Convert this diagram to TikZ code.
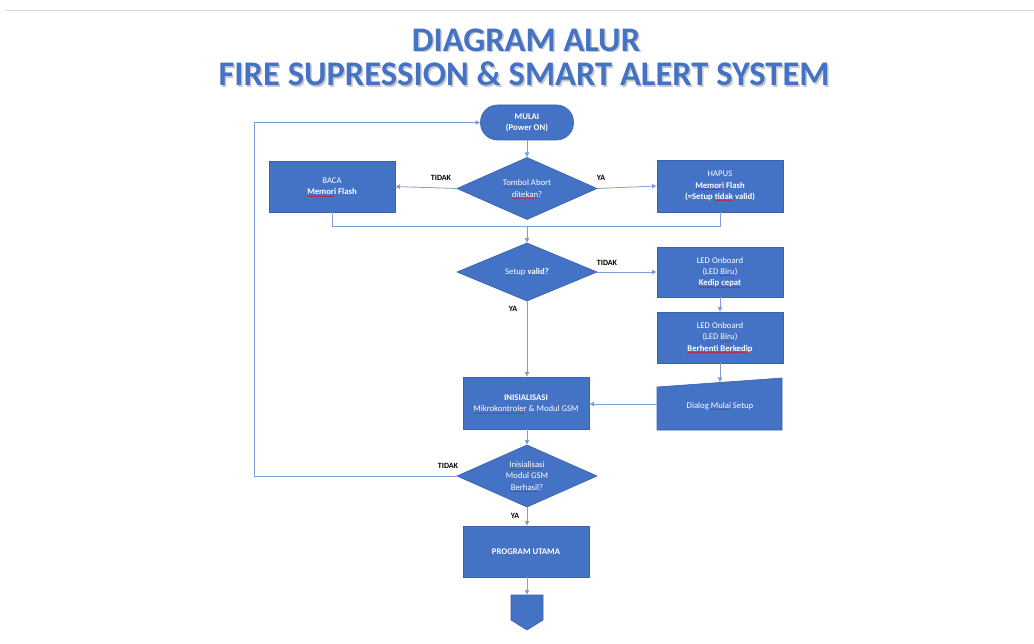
\documentclass[tikz,border=0pt]{standalone}
\usepackage{fontspec}
\setmainfont{Carlito}
\usetikzlibrary{shapes.geometric,arrows.meta}
\definecolor{obl}{HTML}{4472C4}
\definecolor{obd}{HTML}{3A62AD}
\definecolor{lnk}{HTML}{7F9ED6}
\newlength\sqlen
\newcommand\sqw[1]{\leavevmode\settowidth{\sqlen}{#1}\rlap{\color{red}\raisebox{-3.6pt}[0pt][0pt]{\hbox to\sqlen{\fontsize{6}{6}\selectfont\leaders\hbox{\char"7E}\hfil}}}#1}
\tikzset{
  txt/.style={font=\fontsize{8.7}{11.2}\selectfont},
  boxnode/.style={rectangle,fill=obl,draw=obd,line width=0.6pt,text=white,
    minimum width=126,minimum height=51,inner sep=0pt,outer sep=0pt,align=center,txt},
  decnode/.style={diamond,fill=obl,draw=obd,line width=0.6pt,text=white,
    minimum width=140,minimum height=62,shape aspect=2.2,inner sep=0pt,outer sep=0pt,align=center,txt},
  termnode/.style={rectangle,rounded corners=17pt,fill=obl,draw=obd,line width=0.6pt,text=white,
    minimum width=93,minimum height=35,inner sep=0pt,outer sep=0pt,align=center,txt},
  conn/.style={draw=lnk,line width=0.8pt},
  arr/.style={conn,-{Latex[length=5pt,width=5pt]}},
  lbl/.style={font=\fontsize{8}{9}\selectfont\bfseries,text=black,inner sep=0pt},
  ttl/.style={font=\fontsize{34.5}{36}\selectfont\bfseries,inner sep=0pt}
}
\begin{document}
\begin{tikzpicture}[x=1pt,y=-1pt]
\useasboundingbox (0,0) rectangle (1034,644);
\fill[white] (0,0) rectangle (1034,644);
% top rule
\draw[color=black!15,line width=1pt] (5,11) -- (1034,11);
% title
\node[ttl,text=black!35,opacity=0.6] at (527.5,41.5) {DIAGRAM ALUR};
\node[ttl,text=obl] (t1) at (526,40) {DIAGRAM ALUR};
\node[ttl,text=black!35,opacity=0.6] at (525.5,75.5) {FIRE SUPRESSION \& SMART ALERT SYSTEM};
\node[ttl,text=obl] (t2) at (524,74) {FIRE SUPRESSION \& SMART ALERT SYSTEM};

% nodes
\node[termnode] (mulai) at (527,122.5) {\textbf{MULAI}\\\textbf{(Power ON)}};
\node[decnode] (d1) at (527,188.5) {\sqw{Tombol} Abort\\\sqw{ditekan}?};
\node[boxnode] (baca) at (332,186.5) {BACA\\\textbf{\sqw{Memori} Flash}};
\node[boxnode,minimum height=52] (hapus) at (720,186) {HAPUS\\\textbf{\sqw{Memori} Flash}\\\textbf{(=Setup \sqw{tidak} valid)}};
\node[decnode,minimum height=58] (d2) at (527,272) {Setup \textbf{valid?}};
\node[boxnode,minimum height=50] (led1) at (720,272) {LED Onboard\\(LED \sqw{Biru})\\\textbf{\sqw{Kedip cepat\ }}};
\node[boxnode] (led2) at (720,337.5) {LED Onboard\\(LED \sqw{Biru})\\\textbf{\sqw{Berhenti Berkedip}}};
\node[boxnode,minimum height=52] (init) at (526,403) {\textbf{INISIALISASI}\\\sqw{Mikrokontroler} \& Modul GSM};
% manual input shape
\fill[obl,draw=obd,line width=0.6pt] (657,387) -- (782,378) -- (782,430) -- (657,430) -- cycle;
\node[txt,text=white,inner sep=0pt] (dlg) at (720,406) {Dialog \sqw{Mulai} Setup};
\coordinate (dlgtop) at (720,382.5);
\coordinate (dlgleft) at (657,404);
\node[decnode] (d3) at (527,476) {\sqw{Inisialisasi}\\Modul GSM\\\sqw{Berhasil}?};
\node[boxnode] (prog) at (526,551.5) {\textbf{PROGRAM UTAMA}};
% off-page connector
\fill[obl,draw=obd,line width=0.6pt] (511,595) -- (543,595) -- (543,620) -- (527,630) -- (511,620) -- cycle;
\coordinate (offtop) at (527,595);

% connectors
\draw[arr] (mulai.south) -- (d1.north);
\draw[arr] (d1.west) -- (baca.east);
\draw[arr] (d1.east) -- (hapus.west);
\coordinate (mL) at (332,226);
\coordinate (mR) at (720,226);
\coordinate (mC) at (527,226);
\draw[conn] (baca.south) -- (mL) -- (mR) -- (hapus.south);
\draw[arr] (mC) -- (d2.north);
\draw[arr] (d2.east) -- (led1.west);
\draw[arr] (led1.south) -- (led2.north);
\draw[arr] (led2.south) -- (dlgtop);
\draw[arr] (dlgleft) -- (init.east |- dlgleft);
\draw[arr] (d2.south) -- (init.north -| d2.south);
\draw[arr] (init.south -| d3.north) -- (d3.north);
\draw[arr] (d3.south) -- (prog.north -| d3.south);
\draw[arr] (prog.south -| offtop) -- (offtop);
\coordinate (lb) at (254,476);
\coordinate (lt) at (254,122.5);
\draw[arr] (d3.west) -- (lb) -- (lt) -- (mulai.west);

% labels
\node[lbl] at (441,178) {TIDAK};
\node[lbl] at (601,178) {YA};
\node[lbl] at (607,263) {TIDAK};
\node[lbl] at (513,309) {YA};
\node[lbl] at (448,466) {TIDAK};
\node[lbl] at (515,516) {YA};
\end{tikzpicture}
\end{document}
